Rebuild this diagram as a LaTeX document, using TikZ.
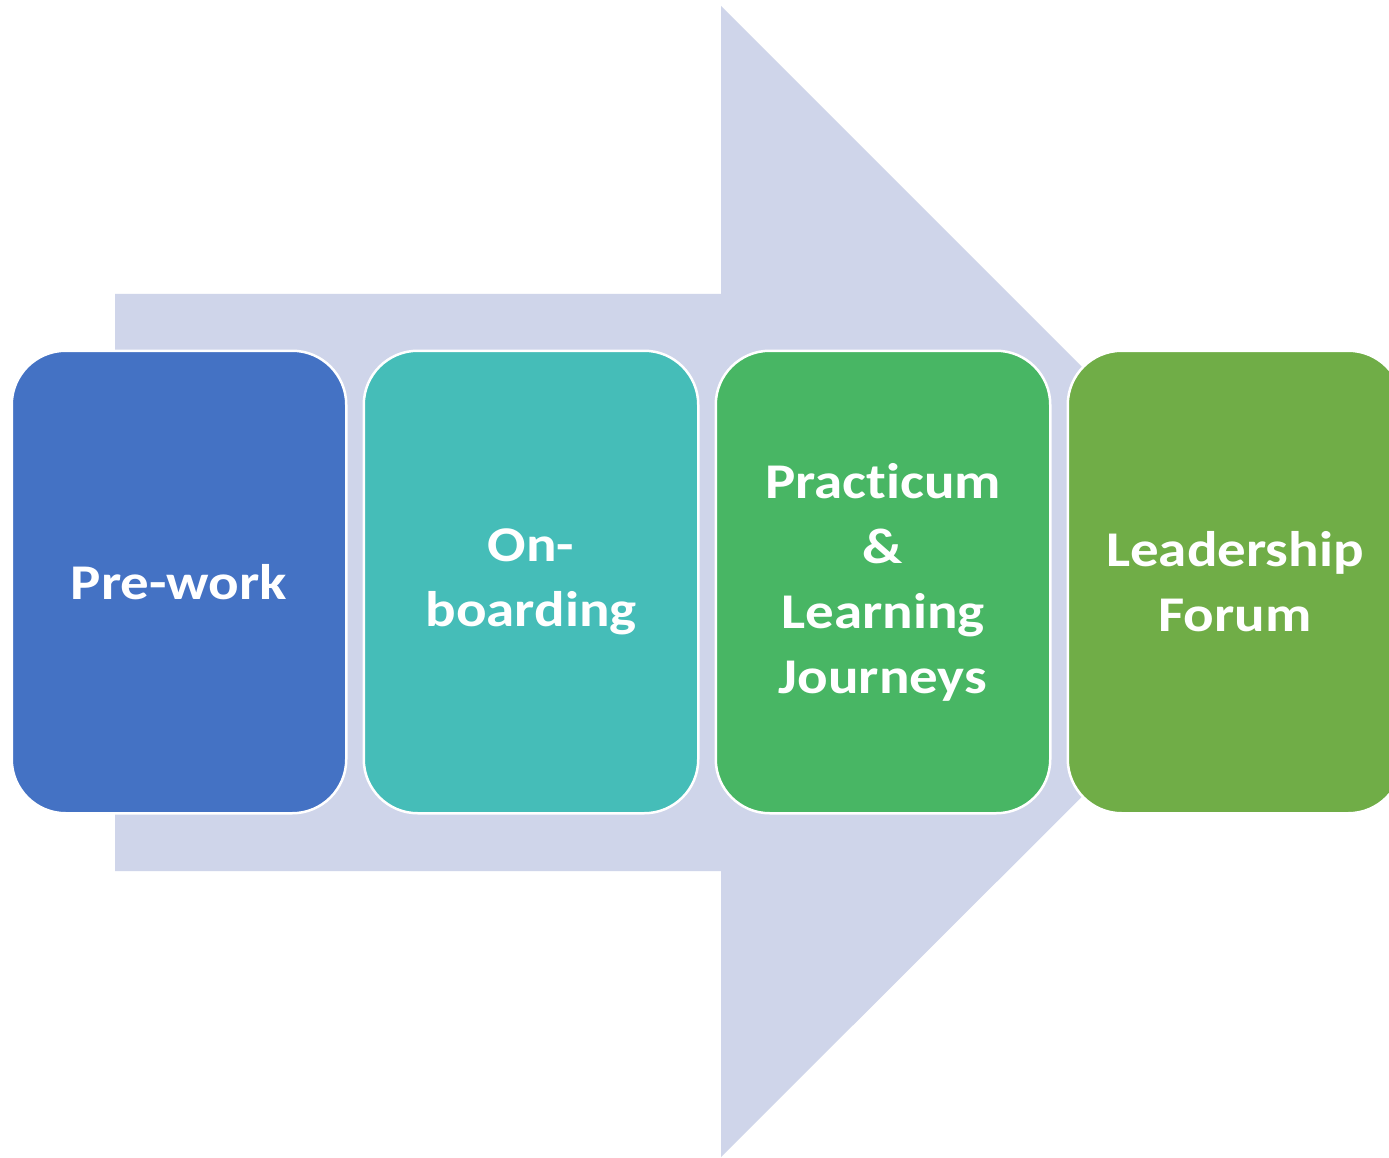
\documentclass[tikz,border=0pt]{standalone}
\usepackage{fontspec}
\setmainfont{Carlito}[FakeStretch=1.14, Ligatures=NoCommon]
\usetikzlibrary{positioning}
\definecolor{arrowbg}{HTML}{CFD5EA}
\definecolor{stepblue}{HTML}{4472C4}
\definecolor{stepteal}{HTML}{45BDB8}
\definecolor{stepgreen}{HTML}{48B664}
\definecolor{stepolive}{HTML}{70AD47}

\begin{document}
\begin{tikzpicture}[x=1pt, y=-1pt,
  stepbox/.style={draw=white, line width=2.5pt, rounded corners=54pt,
    minimum width=334.5pt, minimum height=462.5pt, inner sep=0pt,
    text=white, align=center, font=\fontsize{50}{65}\selectfont\bfseries},
  node distance=15pt]
\fill[white] (0,0) rectangle (1389,1158);
\useasboundingbox (0,0) rectangle (1389,1158);
\clip (0,0) rectangle (1389,1158);
\fill[arrowbg] (115,294) -- (721,294) -- (721,6) -- (1297,582) -- (721,1157) -- (721,871) -- (115,871) -- cycle;
\node[stepbox, fill=stepblue] (prework) at (179,582) {Pre-work};
\node[stepbox, fill=stepteal, right=of prework] (onboarding) {On-\\boarding};
\node[stepbox, fill=stepgreen, right=of onboarding] (practicum) {Practicum\\\&\\Learning\\Journeys};
\node[stepbox, fill=stepolive, right=of practicum] (forum) {Leadership\\Forum};
\end{tikzpicture}
\end{document}
